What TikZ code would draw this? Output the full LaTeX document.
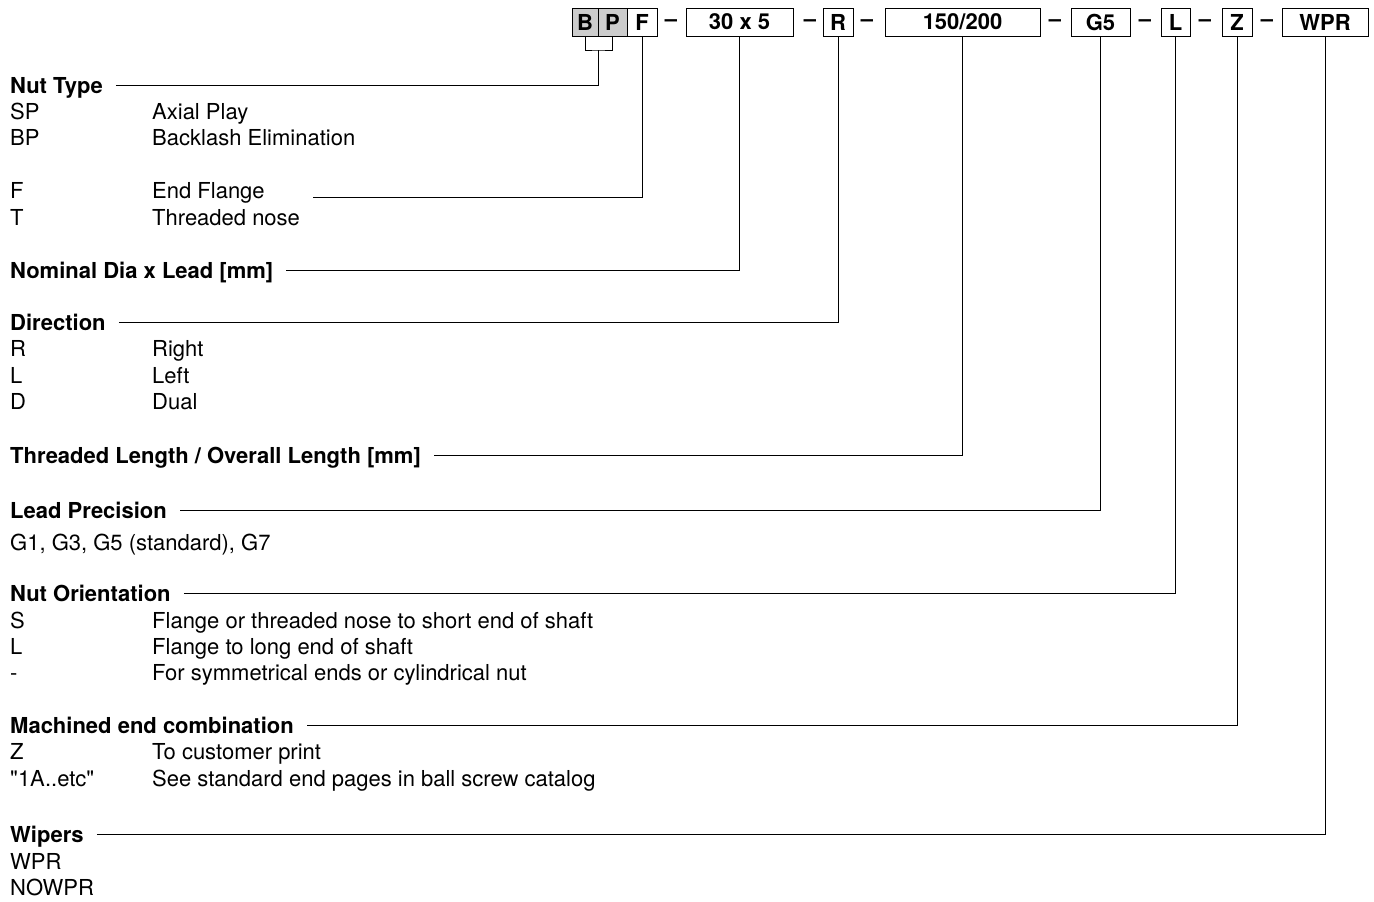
\documentclass[tikz,border=0pt]{standalone}
\usepackage{fontspec}
\setmainfont{TeX Gyre Heros}
\newcommand{\orderfont}{\fontsize{22}{26}\selectfont}
\tikzset{
	cell/.style={draw, line width=1pt, minimum height=28pt, inner sep=0pt, font=\orderfont\bfseries},
	shaded/.style={cell, fill=gray!40},
	sep/.style={inner sep=0pt, font=\orderfont\bfseries},
	head/.style={anchor=west, inner sep=0pt, text height=16pt, text depth=0pt, font=\orderfont\bfseries},
	entry/.style={anchor=west, inner sep=0pt, text height=16pt, text depth=0pt, font=\orderfont},
	leader/.style={line width=1pt},
}
\begin{document}
\begin{tikzpicture}[x=1pt, y=-1pt]
	\useasboundingbox (0, 0) rectangle (1374, 902);
	% order code
	\node[shaded, minimum width=26pt] (b) at (585, 22) {B};
	\node[shaded, minimum width=29pt] (p) at (612.5, 22) {P};
	\node[cell, minimum width=30pt] (f) at (642, 22) {F};
	\node[sep] (d1) at (671, 23) {--};
	\node[cell, minimum width=107pt] (dia) at (739.5, 22) {30 x 5};
	\node[sep] (d2) at (810, 23) {--};
	\node[cell, minimum width=30pt] (r) at (838, 22) {R};
	\node[sep] (d3) at (867, 23) {--};
	\node[cell, minimum width=155pt] (len) at (962.5, 22) {150/200};
	\node[sep] (d4) at (1055, 23) {--};
	\node[cell, minimum width=59pt] (g) at (1100.5, 22) {G5};
	\node[sep] (d5) at (1145, 23) {--};
	\node[cell, minimum width=29pt] (l) at (1175.5, 22) {L};
	\node[sep] (d6) at (1205, 23) {--};
	\node[cell, minimum width=30pt] (z) at (1237, 22) {Z};
	\node[sep] (d7) at (1267, 23) {--};
	\node[cell, minimum width=86pt] (wpr) at (1325, 22) {WPR};

	% nut type
	\node[head] (nut) at (10, 85) {Nut Type};
	\node[entry] (sp) at (10, 111) {SP};
	\node[entry] (sp-d) at (152, 111) {Axial Play};
	\node[entry] (bpn) at (10, 137) {BP};
	\node[entry] (bpn-d) at (152, 137) {Backlash Elimination};
	\node[entry] (fl) at (10, 190) {F};
	\node[entry] (fl-d) at (152, 190) {End Flange};
	\node[entry] (tn) at (10, 217) {T};
	\node[entry] (tn-d) at (152, 217) {Threaded nose};
	\coordinate (bp) at (598, 50);
	\coordinate (flg) at (313, 197);
	\draw[leader] (b.south) |- (bp) -| (p.south);
	\draw[leader] ([xshift=13pt]nut.east) -| (bp);
	\draw[leader] (flg) -| (f.south);

	% size
	\node[head] (nom) at (10, 270) {Nominal Dia x Lead [mm]};
	\draw[leader] ([xshift=13pt]nom.east) -| (dia.south);

	% direction
	\node[head] (dir) at (10, 322) {Direction};
	\node[entry] (rt) at (10, 348) {R};
	\node[entry] (rt-d) at (152, 348) {Right};
	\node[entry] (lt) at (10, 375) {L};
	\node[entry] (lt-d) at (152, 375) {Left};
	\node[entry] (du) at (10, 401) {D};
	\node[entry] (du-d) at (152, 401) {Dual};
	\draw[leader] ([xshift=13pt]dir.east) -| (r.south);

	% lengths
	\node[head] (thr) at (10, 455) {Threaded Length / Overall Length [mm]};
	\draw[leader] ([xshift=13pt]thr.east) -| (len.south);

	% precision
	\node[head] (prec) at (10, 510) {Lead Precision};
	\node[entry] (prec-d) at (10, 542) {G1, G3, G5 (standard), G7};
	\draw[leader] ([xshift=13pt]prec.east) -| (g.south);

	% orientation
	\node[head] (ori) at (10, 593) {Nut Orientation};
	\node[entry] (os) at (10, 620) {S};
	\node[entry] (os-d) at (152, 620) {Flange or threaded nose to short end of shaft};
	\node[entry] (ol) at (10, 646) {L};
	\node[entry] (ol-d) at (152, 646) {Flange to long end of shaft};
	\node[entry] (on) at (10, 672) {-};
	\node[entry] (on-d) at (152, 672) {For symmetrical ends or cylindrical nut};
	\draw[leader] ([xshift=13pt]ori.east) -| (l.south);

	% machined ends
	\node[head] (mach) at (10, 725) {Machined end combination};
	\node[entry] (mz) at (10, 751) {Z};
	\node[entry] (mz-d) at (152, 751) {To customer print};
	\node[entry] (ma) at (10, 778) {\textquotedbl 1A..etc\textquotedbl};
	\node[entry] (ma-d) at (152, 778) {See standard end pages in ball screw catalog};
	\draw[leader] ([xshift=13pt]mach.east) -| (z.south);

	% wipers
	\node[head] (wip) at (10, 834) {Wipers};
	\node[entry] (ww) at (10, 861) {WPR};
	\node[entry] (wn) at (10, 887) {NOWPR};
	\draw[leader] ([xshift=13pt]wip.east) -| (wpr.south);
\end{tikzpicture}
\end{document}
